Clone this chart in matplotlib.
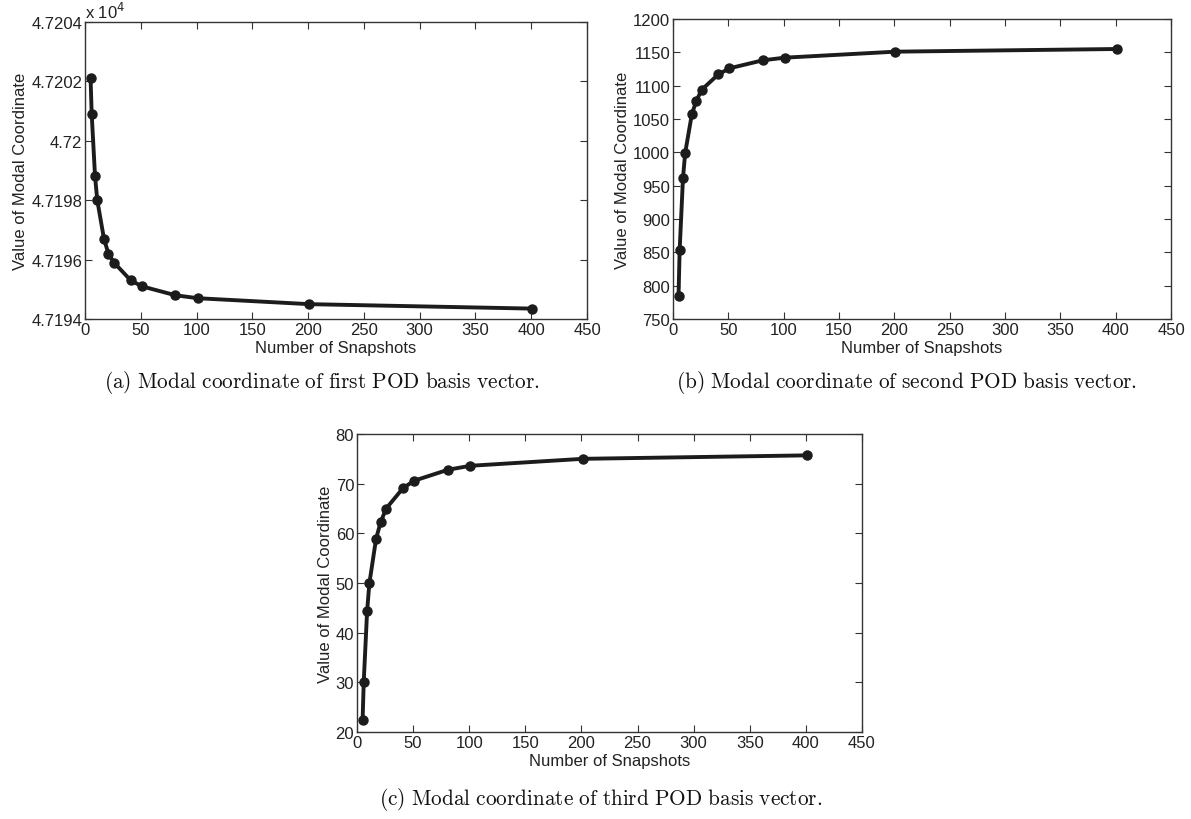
import matplotlib
matplotlib.use("Agg")
import matplotlib.pyplot as plt
from matplotlib.ticker import FuncFormatter

plt.rcParams['font.family'] = ['Liberation Sans', 'DejaVu Sans']
plt.rcParams['mathtext.fontset'] = 'cm'

# snapshot counts used for every mode
snapshots = [5, 6, 9, 11, 17, 21, 26, 41, 51, 81, 101, 201, 401]

# modal coordinate of the first three POD basis vectors
mode1 = [47202.1, 47200.9, 47198.8, 47198.0, 47196.7, 47196.2, 47195.9,
         47195.3, 47195.1, 47194.8, 47194.7, 47194.5, 47194.35]
mode2 = [785, 853, 961, 999, 1057, 1077, 1094, 1117, 1126, 1138, 1142, 1151, 1155]
mode3 = [22.4, 30.1, 44.3, 49.9, 58.9, 62.2, 65.0, 69.1, 70.6, 72.8, 73.6, 75.0, 75.7]

captions = ["(a)\\ Modal\\ coordinate\\ of\\ first\\ POD\\ basis\\ vector.",
            "(b)\\ Modal\\ coordinate\\ of\\ second\\ POD\\ basis\\ vector.",
            "(c)\\ Modal\\ coordinate\\ of\\ third\\ POD\\ basis\\ vector."]

W, H = 1191, 820
fig = plt.figure(figsize=(W / 100, H / 100), dpi=100)

def box(l, t, r, b):
    return [l / W, 1 - b / H, (r - l) / W, (b - t) / H]

ax_a = fig.add_axes(box(85, 23, 587, 320))
ax_b = fig.add_axes(box(673, 20, 1171, 320))
ax_c = fig.add_axes(box(357, 435, 862, 733))

ink = '#1c1c1c'
txt = '#222222'

def style(ax, y, ylim, yticks):
    ax.plot(snapshots, y, color=ink, lw=2.8, marker='o', ms=6.5,
            markerfacecolor=ink, markeredgecolor=ink)
    ax.set_xlim(0, 450)
    ax.set_xticks(range(0, 451, 50))
    ax.set_ylim(*ylim)
    ax.set_yticks(yticks)
    ax.tick_params(direction='in', length=5, width=0.8, top=True, right=True,
                   labelsize=12, labelcolor=txt, pad=2, color='#333333')
    for s in ax.spines.values():
        s.set_linewidth(1.0)
        s.set_color('#333333')
    ax.set_xlabel('Number of Snapshots', fontsize=12, color=txt, labelpad=2)
    ax.set_ylabel('Value of Modal Coordinate', fontsize=12, color=txt, labelpad=2)

style(ax_a, mode1, (47194, 47204), range(47194, 47205, 2))
ax_a.yaxis.set_major_formatter(FuncFormatter(lambda v, p: '%g' % (v / 1e4)))
ax_a.text(0, 1.005, r'x 10$^{4}$', transform=ax_a.transAxes, fontsize=12,
          color=txt, ha='left', va='bottom',
          math_fontfamily='dejavusans')

style(ax_b, mode2, (750, 1200), range(750, 1201, 50))
style(ax_c, mode3, (20, 80), range(20, 81, 10))

# sub-figure captions
for (cx, cy), cap in zip([(322, 383), (907, 383), (601, 800)], captions):
    fig.text(cx / W, 1 - cy / H, '$\\mathrm{' + cap + '}$', fontsize=15.3,
             ha='center', va='center', color='#111111')

fig.savefig('out.png', dpi=100)
